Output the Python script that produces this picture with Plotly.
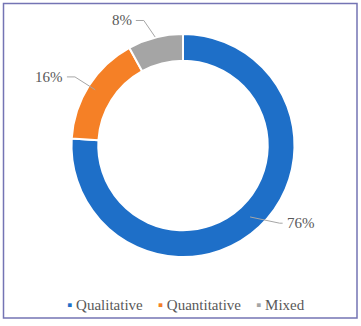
import math
import plotly.graph_objects as go

categories = ["Qualitative", "Quantitative", "Mixed"]
shares = [76, 16, 8]
colors = ["#1E6FC8", "#F58026", "#A5A5A5"]

W, H = 361, 326
CX, CY, R = 183.0, 145.5, 111.5
HOLE = 0.76
TEXT = "#595959"
FONT = "Liberation Serif"

def px(x):
    return x / W

def py(y):
    return 1 - y / H

fig = go.Figure()
fig.add_trace(go.Pie(
    labels=categories, values=shares, hole=HOLE, sort=False,
    direction="clockwise", rotation=0,
    marker=dict(colors=colors, line=dict(color="white", width=2)),
    textinfo="none", hoverinfo="label+percent", showlegend=False,
    domain=dict(x=[px(CX - R), px(CX + R)], y=[py(CY + R), py(CY - R)]),
))

# label geometry per slice: start radius, elbow radius, elbow angle shift, horizontal tail
label_cfg = [
    dict(rs=98, re=124, da=-8, tail=3),
    dict(rs=104, re=128, da=0, tail=8),
    dict(rs=112, re=131, da=-3, tail=8),
]

total = sum(shares)
cum = 0
shapes = []
annotations = []
for cat, v, cfg in zip(categories, shares, label_cfg):
    mid = (cum + v / 2) / total * 360
    cum += v
    a0 = math.radians(mid)
    a1 = math.radians(mid + cfg["da"])
    x0 = CX + cfg["rs"] * math.sin(a0)
    y0 = CY - cfg["rs"] * math.cos(a0)
    x1 = CX + cfg["re"] * math.sin(a1)
    y1 = CY - cfg["re"] * math.cos(a1)
    side = 1 if math.sin(a1) >= 0 else -1
    x2 = x1 + side * cfg["tail"]
    shapes.append(dict(
        type="path", xref="paper", yref="paper",
        path=f"M {px(x0)} {py(y0)} L {px(x1)} {py(y1)} L {px(x2)} {py(y1)}",
        line=dict(color="#A6A6A6", width=1),
    ))
    annotations.append(dict(
        x=px(x2 + side * 2), y=py(y1), xref="paper", yref="paper",
        text=f"{round(v / total * 100)}%", showarrow=False,
        xanchor="left" if side > 0 else "right", yanchor="middle",
        font=dict(family=FONT, size=15, color=TEXT),
    ))

legend_text = "    ".join(
    f"<span style='color:{c}'>▪</span> {cat}" for cat, c in zip(categories, colors)
)
annotations.append(dict(
    x=px(186), y=py(305), xref="paper", yref="paper", text=legend_text,
    showarrow=False, xanchor="center", yanchor="middle",
    font=dict(family=FONT, size=15, color=TEXT),
))

shapes.append(dict(
    type="rect", xref="paper", yref="paper",
    x0=px(3.5), x1=px(357), y0=py(318), y1=py(3.5),
    line=dict(color="#7474B4", width=1.5),
))

fig.update_layout(
    width=W, height=H, margin=dict(l=0, r=0, t=0, b=0),
    paper_bgcolor="white", plot_bgcolor="white",
    shapes=shapes, annotations=annotations,
)
fig.write_html(
    "out.html",
    config={"displayModeBar": False},
    post_script="document.body.style.margin='0';document.body.style.overflow='hidden';",
)
